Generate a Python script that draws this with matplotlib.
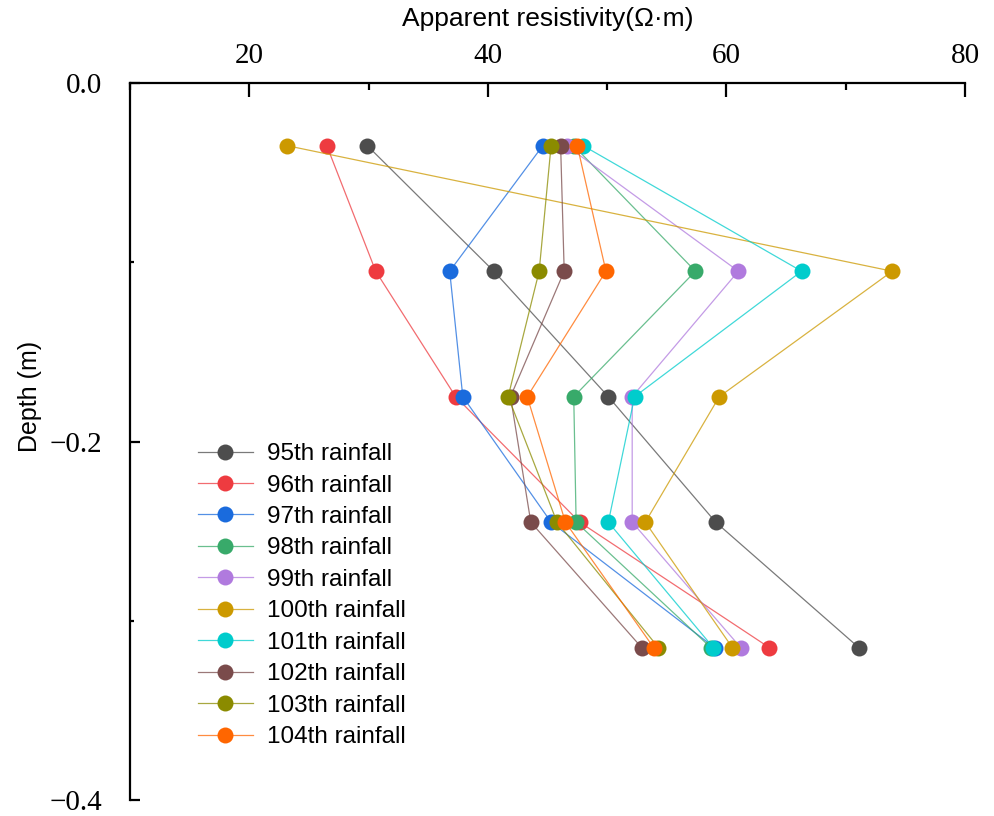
import numpy as np
import matplotlib
matplotlib.use('Agg')
import matplotlib.pyplot as plt
from matplotlib.ticker import MultipleLocator, FuncFormatter
from matplotlib.colors import to_rgba

# electrode depths (m) and apparent resistivity (ohm*m) after each rainfall
depth = [-0.035, -0.105, -0.175, -0.245, -0.315]

r95 = [29.9, 40.5, 50.1, 59.1, 71.1]
r96 = [26.5, 30.6, 37.3, 47.7, 63.6]
r97 = [44.6, 36.8, 37.9, 45.3, 59.0]
r98 = [47.2, 57.4, 47.2, 47.4, 58.7]
r99 = [46.6, 61.0, 52.1, 52.1, 61.2]
r100 = [23.2, 73.9, 59.4, 53.2, 60.5]
r101 = [48.0, 66.3, 52.3, 50.1, 58.9]
r102 = [46.1, 46.4, 41.9, 43.6, 52.9]
r103 = [45.3, 44.3, 41.7, 45.8, 54.3]
r104 = [47.5, 49.9, 43.3, 46.5, 53.9]

labels = ['95th rainfall', '96th rainfall', '97th rainfall', '98th rainfall',
          '99th rainfall', '100th rainfall', '101th rainfall', '102th rainfall',
          '103th rainfall', '104th rainfall']
series = [r95, r96, r97, r98, r99, r100, r101, r102, r103, r104]
colors = ['#4D4D4D', '#EE3B40', '#1A6BDD', '#38AA6A', '#B07ADE',
          '#CC9900', '#00CCCC', '#7A4B4B', '#8B8B00', '#FF6600']

fig = plt.figure(figsize=(9.94, 8.16), dpi=100)
ax = fig.add_axes([130/994, 1-800/816, (965-130)/994, (800-83)/816])

for vals, lab, c in zip(series, labels, colors):
    ax.plot(vals, depth, color=to_rgba(c, 0.75), lw=0.9,
            marker='o', ms=11.5, mfc=c, mec=c, mew=0, label=lab)

ax.set_xlim(10, 80)
ax.set_ylim(-0.4, 0)

ax.spines['right'].set_visible(False)
ax.spines['bottom'].set_visible(False)
ax.spines['top'].set_linewidth(1.6)
ax.spines['left'].set_linewidth(1.6)

ax.xaxis.tick_top()
ax.xaxis.set_label_position('top')
ax.xaxis.set_major_locator(MultipleLocator(20))
ax.xaxis.set_minor_locator(MultipleLocator(10))
ax.yaxis.set_major_locator(MultipleLocator(0.2))
ax.yaxis.set_minor_locator(MultipleLocator(0.1))
ax.yaxis.set_major_formatter(FuncFormatter(lambda v, p: ('%.1f' % v).replace('-', '\u2212')))

ax.tick_params(axis='x', which='major', direction='in', length=10, width=1.6, pad=10)
ax.tick_params(axis='x', which='minor', direction='in', length=5, width=1.6)
ax.tick_params(axis='y', which='major', direction='in', length=7, width=1.6, pad=20)
ax.tick_params(axis='y', which='minor', direction='in', length=3, width=1.6)

for t in ax.get_xticklabels() + ax.get_yticklabels():
    t.set_fontfamily('Liberation Serif')
    t.set_fontsize(21)

ax.set_xlabel('Apparent resistivity(Ω·m)', fontsize=19, family='Liberation Sans', labelpad=12)
ax.set_ylabel('Depth (m)', fontsize=18, family='Liberation Sans')
ax.yaxis.set_label_coords(-0.105, 0.563)

ax.legend(loc='upper left', bbox_to_anchor=(198/994, 1-443/816),
          bbox_transform=fig.transFigure, frameon=False,
          prop={'family': 'Liberation Sans', 'size': 17.5},
          handlelength=2.25, handletextpad=0.6, labelspacing=0.39,
          borderpad=0, borderaxespad=0)

fig.savefig('out.png', dpi=100)
